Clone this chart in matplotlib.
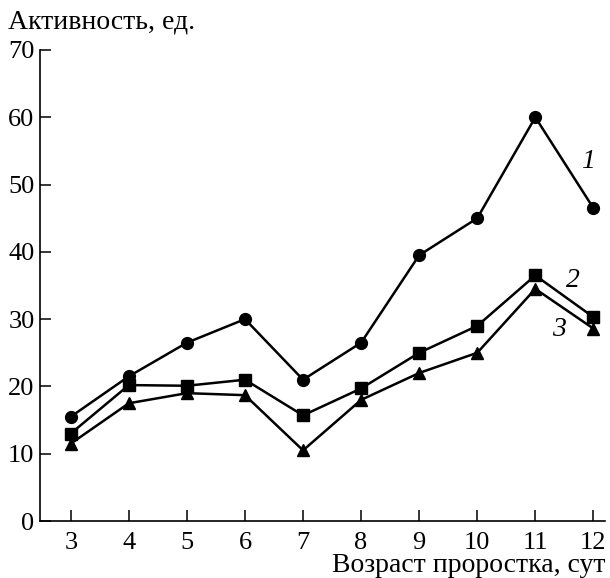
import matplotlib
matplotlib.use("Agg")
import matplotlib.pyplot as plt

days = [3, 4, 5, 6, 7, 8, 9, 10, 11, 12]
s1 = [15.5, 21.5, 26.5, 30.0, 21.0, 26.5, 39.5, 45.0, 60.0, 46.5]
s2 = [13.0, 20.2, 20.1, 21.0, 15.7, 19.7, 25.0, 29.0, 36.5, 30.3]
s3 = [11.5, 17.5, 19.0, 18.7, 10.5, 18.0, 22.0, 25.0, 34.5, 28.6]
yticks = [0, 10, 20, 30, 40, 50, 60, 70]

plt.rcParams['font.family'] = ['Liberation Serif', 'DejaVu Serif']
fig = plt.figure(figsize=(6.1, 5.78), dpi=100)
ax = fig.add_axes([40/610, 1-521/578, 565/610, 471/578])

kw = dict(color='black', lw=1.8)
ax.plot(days, s1, marker='o', ms=8.5, **kw)
ax.plot(days, s2, marker='s', ms=8.5, **kw)
ax.plot(days, s3, marker='^', ms=8.5, **kw)

ax.set_xlim(2.47, 12.2)
ax.set_ylim(0, 70)
ax.set_xticks(days)
ax.set_yticks(yticks)
ax.spines['top'].set_visible(False)
ax.spines['right'].set_visible(False)
ax.spines['left'].set_linewidth(1.2)
ax.spines['bottom'].set_linewidth(1.2)
ax.tick_params(direction='in', length=8, width=1.1, labelsize=19, pad=4)
ax.tick_params(axis='x', pad=8)

ax.text(11.91, 53.5, '1', fontsize=20, style='italic', ha='center', va='center')
ax.text(11.65, 35.8, '2', fontsize=20, style='italic', ha='center', va='center')
ax.text(11.40, 28.4, '3', fontsize=20, style='italic', ha='center', va='center')

fig.text(8/610, 1-22/578, 'Активность, ед.', fontsize=20, ha='left', va='center')
fig.text(606/610, 1-565/578, 'Возраст проростка, сут', fontsize=20, ha='right', va='center')

fig.savefig('out.png', dpi=100)
